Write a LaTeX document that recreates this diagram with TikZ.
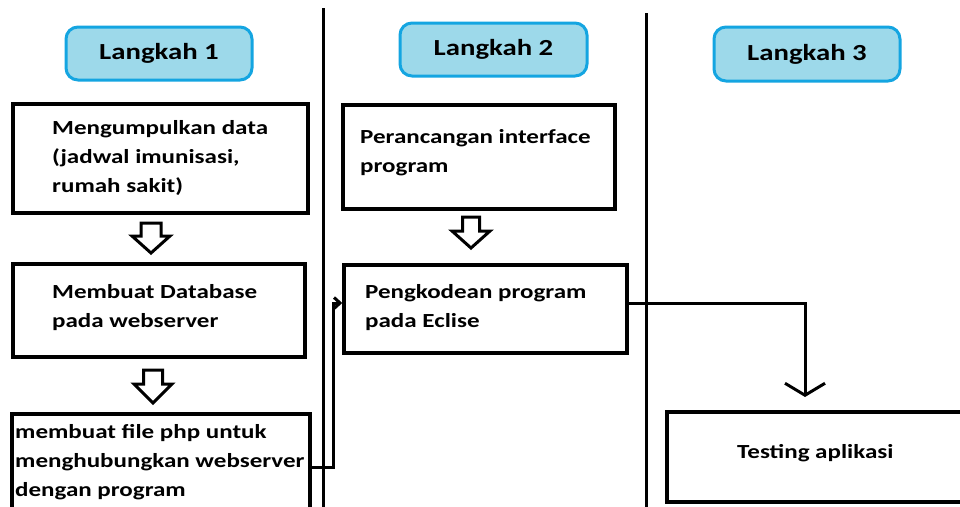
\documentclass[tikz,border=0pt]{standalone}
\usepackage{fontspec}
\setmainfont[FakeStretch=1.25]{Carlito}
\usetikzlibrary{arrows.meta,calc}
\definecolor{stepfill}{RGB}{157,217,234}
\definecolor{stepline}{RGB}{20,165,225}
\tikzset{
  x=1pt,y=-1pt,
  stepbox/.style={draw=stepline,fill=stepfill,line width=3pt,rounded corners=12pt,
    font=\fontsize{23}{28}\selectfont\bfseries,inner sep=0pt},
  box/.style={draw=black,line width=3.5pt,inner sep=0pt},
  txt/.style={font=\fontsize{20}{29}\selectfont\bfseries,align=left,inner sep=0pt,anchor=north west},
  sep/.style={line width=3pt},
  hollow/.style={draw=black,line width=3pt,fill=white,line join=miter},
  conn/.style={line width=3pt}
}
\newcommand{\blockarrow}[6]{%
  \draw[hollow] (#1-#2,#4)--(#1+#2,#4)--(#1+#2,#5)--(#1+#3,#5)--(#1,#6)--(#1-#3,#5)--(#1-#2,#5)--cycle;}
\begin{document}
\begin{tikzpicture}
\useasboundingbox (0,0) rectangle (960,506);
\fill[white] (0,0) rectangle (960,506);
% separators
\draw[sep] (323,8) -- (323,510);
\draw[sep] (646,13) -- (646,510);
% step labels
\node[stepbox,minimum width=186pt,minimum height=53pt] (l1) at (159,53.5) {Langkah 1};
\node[stepbox,minimum width=187pt,minimum height=53pt] (l2) at (493.5,49.5) {Langkah 2};
\node[stepbox,minimum width=186pt,minimum height=54pt] (l3) at (807,54) {Langkah 3};
% column 1 boxes
\node[box,minimum width=295pt,minimum height=109pt] (b1) at (160.5,158.5) {};
\node[txt] (t1) at (52,120) {Mengumpulkan data\\(jadwal imunisasi,\\rumah sakit)};
\node[box,minimum width=292pt,minimum height=93pt] (b2) at (159,310.5) {};
\node[txt] (t2) at (52,284) {Membuat Database\\pada webserver};
\node[box,minimum width=298pt,minimum height=106pt] (b3) at (161,467) {};
\node[txt] (t3) at (15,424) {membuat file php untuk\\menghubungkan webserver\\dengan program};
% column 2 boxes
\node[box,minimum width=272pt,minimum height=104pt] (p1) at (479,157) {};
\node[txt] (tp1) at (360,129) {Perancangan interface\\program};
\node[box,minimum width=283pt,minimum height=88pt] (p2) at (485.5,309) {};
\node[txt] (tp2) at (365,284) {Pengkodean program\\pada Eclise};
% column 3 box
\node[box,minimum width=340pt,minimum height=90pt] (t) at (837,457) {};
\node[txt] (tt) at (737,444) {Testing aplikasi};
% hollow block arrows
\blockarrow{151}{10}{19}{223}{236}{253}
\blockarrow{153}{9.5}{19}{370}{384}{403}
\blockarrow{471}{8.5}{19}{217}{231}{248}
% connectors
\coordinate (tin) at (805,397);
\draw[conn,-{Straight Barb[length=6pt,width=11pt]}] (b3.east) -- ++(22,0) |- ([yshift=6pt]p2.west);
\draw[conn,-{Straight Barb[length=12pt,width=40pt]}] ([yshift=6pt]p2.east) -| (tin);
\end{tikzpicture}
\end{document}
